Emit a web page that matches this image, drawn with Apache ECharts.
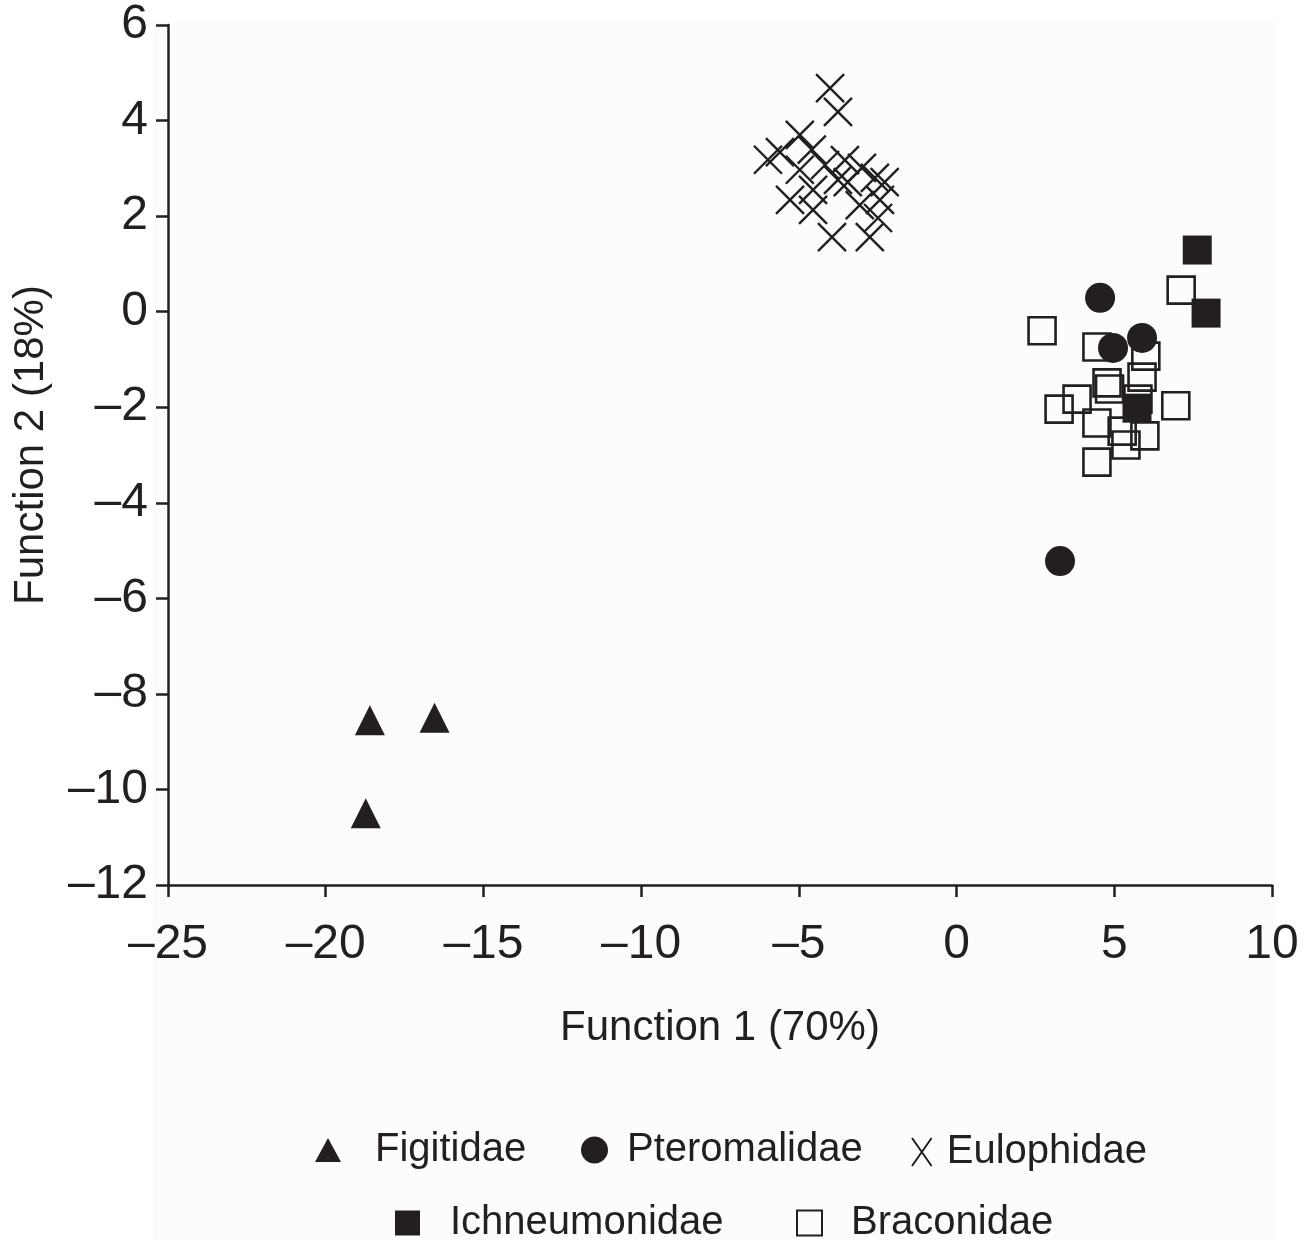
<!DOCTYPE html>
<html>
<head>
<meta charset="utf-8">
<script src="https://cdn.jsdelivr.net/npm/echarts@6/dist/echarts.min.js"></script>
<style>
html,body{margin:0;padding:0;background:#ffffff;}
#chart{width:1308px;height:1240px;}
</style>
</head>
<body>
<div id="chart"></div>
<script>
// ---- data (Function 1, Function 2) ----
const figitidae = [[-18.6, -8.55], [-16.55, -8.5], [-18.73, -10.5]];
const pteromalidae = [[4.55, 0.29], [4.96, -0.76], [5.88, -0.55], [3.28, -5.22]];
const eulophidae = [
  [-4.01, 4.68], [-3.76, 4.18], [-5.60, 3.34], [-4.97, 3.70], [-5.98, 3.18],
  [-4.59, 3.39], [-4.97, 2.97], [-4.17, 3.07], [-3.54, 3.17], [-3.00, 3.01],
  [-3.45, 2.71], [-2.59, 2.80], [-2.28, 2.71], [-4.55, 2.55], [-4.55, 2.13],
  [-5.28, 2.34], [-3.95, 1.56], [-2.75, 1.56], [-2.49, 1.96], [-3.07, 2.23],
  [-3.76, 2.76], [-2.43, 2.34]
];
const ichneumonidae = [[7.63, 1.29], [7.91, -0.03], [5.72, -2.02]];
const braconidae = [
  [2.71, -0.40], [7.12, 0.45], [4.45, -0.74], [6.00, -0.93], [4.77, -1.49],
  [4.85, -1.62], [5.88, -1.37], [3.82, -1.83], [3.25, -2.04], [5.75, -1.83],
  [4.45, -2.33], [5.25, -2.50], [5.97, -2.60], [4.45, -3.15], [5.37, -2.79],
  [6.95, -1.97]
];
const xTicks = {min: -25, max: 10, interval: 5};
const yTicks = {min: -12, max: 6, interval: 2};
const xTitle = 'Function 1 (70%)';
const yTitle = 'Function 2 (18%)';

const INK = '#231f20';
const FONT = '"Liberation Sans", Arial, Helvetica, sans-serif';
const dash = v => (v < 0 ? '\u2013' : '') + Math.abs(v);
const XPATH = 'path://M0,0L10,10M10,0L0,10';

const chart = echarts.init(document.getElementById('chart'), null, {renderer: 'canvas'});

function legendAt(name, icon, left, top, w, h, pad) {
  return {
    data: [{name: name, icon: icon}],
    left: left, top: top, padding: 0,
    itemWidth: w, itemHeight: h,
    selectedMode: false,
    textStyle: {fontSize: 40, fontFamily: FONT, color: INK, padding: [0, 0, 0, pad]}
  };
}

const option = {
  animation: false,
  backgroundColor: '#ffffff',
  graphic: [{
    type: 'rect', z: -100, silent: true,
    shape: {x: 153, y: 21, width: 1124, height: 1219},
    style: {fill: '#fcfcfc'}
  }],
  grid: {left: 168, right: 36, top: 25, bottom: 355, containLabel: false},
  xAxis: {
    type: 'value', min: xTicks.min, max: xTicks.max, interval: xTicks.interval,
    name: xTitle, nameLocation: 'middle', nameGap: 122,
    nameTextStyle: {fontSize: 42, fontFamily: FONT, color: INK},
    axisLine: {show: true, onZero: false, lineStyle: {color: INK, width: 2.5}},
    axisTick: {show: true, inside: false, length: 12, lineStyle: {color: INK, width: 2.5}},
    axisLabel: {fontSize: 48, fontFamily: FONT, color: INK, margin: 36, formatter: dash},
    splitLine: {show: false}
  },
  yAxis: {
    type: 'value', min: yTicks.min, max: yTicks.max, interval: yTicks.interval,
    name: yTitle, nameLocation: 'middle', nameGap: 116,
    nameTextStyle: {fontSize: 42, fontFamily: FONT, color: INK, padding: [0, 0, 0, 20]},
    axisLine: {show: true, onZero: false, lineStyle: {color: INK, width: 2.5}},
    axisTick: {show: true, inside: false, length: 12, lineStyle: {color: INK, width: 2.5}},
    axisLabel: {fontSize: 48, fontFamily: FONT, color: INK, margin: 20, formatter: dash},
    splitLine: {show: false}
  },
  legend: [
    legendAt('Figitidae', 'triangle', 315, 1130, 26, 24, 29),
    legendAt('Pteromalidae', 'circle', 581, 1130, 27, 27, 14),
    legendAt('Eulophidae', 'path://M0,0L7,10M7,0L0,10', 911, 1132, 20, 28, 10),
    legendAt('Ichneumonidae', 'rect', 395, 1203, 25, 25, 25),
    legendAt('Braconidae', 'rect', 796, 1203, 25, 25, 24)
  ],
  series: [
    {
      name: 'Figitidae', type: 'scatter', data: figitidae,
      symbol: 'triangle', symbolSize: [30, 30],
      itemStyle: {color: INK, opacity: 1}
    },
    {
      name: 'Pteromalidae', type: 'scatter', data: pteromalidae,
      symbol: 'circle', symbolSize: 30,
      itemStyle: {color: INK, opacity: 1}
    },
    {
      name: 'Eulophidae', type: 'scatter', data: eulophidae,
      symbol: XPATH, symbolSize: 28,
      itemStyle: {color: 'rgba(0,0,0,0)', borderColor: INK, borderWidth: 2.4, opacity: 1}
    },
    {
      name: 'Ichneumonidae', type: 'scatter', data: ichneumonidae,
      symbol: 'rect', symbolSize: 29,
      itemStyle: {color: INK, opacity: 1}
    },
    {
      name: 'Braconidae', type: 'scatter', data: braconidae,
      symbol: 'rect', symbolSize: 27,
      itemStyle: {color: 'rgba(255,255,255,0)', borderColor: INK, borderWidth: 2.6, opacity: 1}
    }
  ]
};
chart.setOption(option);
</script>
</body>
</html>
